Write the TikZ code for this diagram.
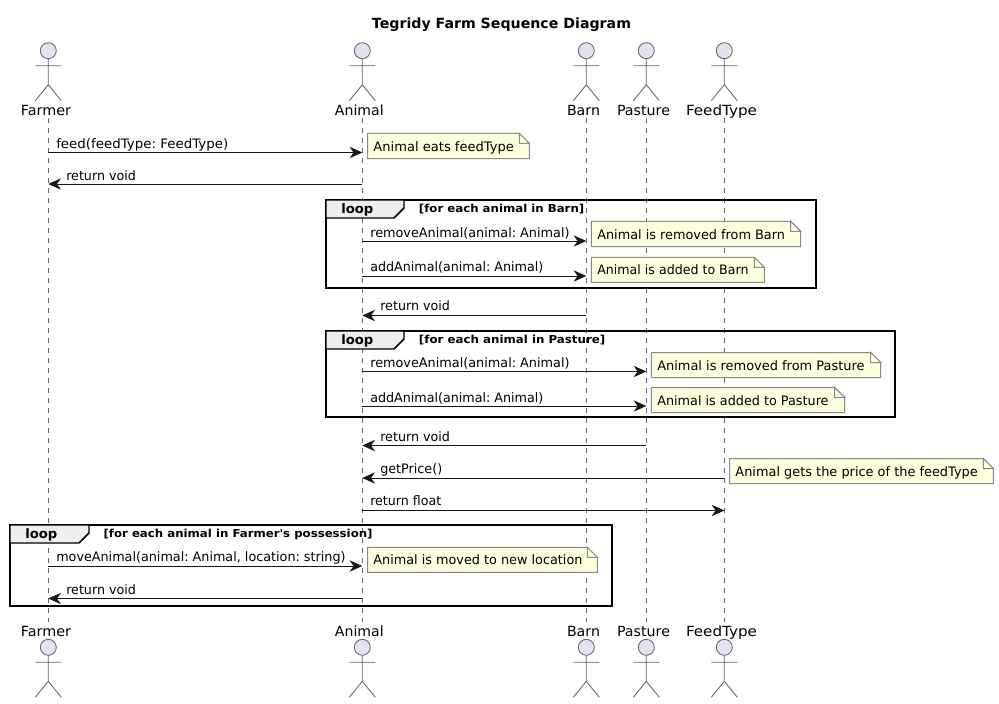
\documentclass[tikz,border=0pt]{standalone}
\usepackage{graphicx}
\usepackage{fontspec}
\setmainfont{DejaVu Sans}[Ligatures=TeXOff]
\usetikzlibrary{arrows.meta,calc}
\definecolor{actorfill}{HTML}{E2E2F0}
\definecolor{actorline}{HTML}{666666}
\definecolor{notefill}{HTML}{FEFFDD}
\definecolor{noteline}{HTML}{8A8A8A}
\definecolor{msgline}{HTML}{181818}
\definecolor{loopfill}{HTML}{EEEEEE}
\newcommand{\fit}[2]{\resizebox{#1\dimexpr 0.75pt\relax}{\height}{#2}}
\tikzset{
  x=0.75pt,y=-0.75pt,
  actorline/.style={draw=actorline,line width=0.65pt},
  lifeline/.style={draw=actorline,line width=0.6pt,dash pattern=on 3.75pt off 3.75pt},
  msg/.style={draw=msgline,line width=0.75pt,-{Stealth[length=9.5pt,width=8.5pt,inset=3pt]}},
  msgtext/.style={font=\fontsize{9.75}{11}\selectfont,anchor=base west,inner sep=0pt,text=black},
  actname/.style={font=\fontsize{10.5}{12}\selectfont,anchor=base,inner sep=0pt,text=black},
  notetext/.style={font=\fontsize{9.75}{11}\selectfont,anchor=base west,inner sep=0pt,text=black},
  framebox/.style={draw=black,line width=1.1pt},
  looptext/.style={font=\fontsize{9.75}{11}\bfseries\selectfont,anchor=base west,inner sep=0pt},
  guardtext/.style={font=\fontsize{8.25}{10}\bfseries\selectfont,anchor=base west,inner sep=0pt},
}
% actor figure: #1 centre x, #2 head centre y
\newcommand{\stick}[2]{%
  \path[actorline,fill=actorfill] (#1,#2) circle[radius=6pt];
  \path[actorline] (#1,#2+8) -- (#1,#2+34) (#1-13,#2+15) -- (#1+13,#2+15)
    (#1-13,#2+50) -- (#1,#2+34) -- (#1+13,#2+50);
}
% note: #1 name, #2 left, #3 top, #4 right, #5 bottom, #6 text width, #7 text
\newcommand{\notebox}[7]{%
  \path[draw=noteline,fill=notefill,line width=0.75pt] (#2,#3) -- (#4-10,#3) -- (#4,#3+10) -- (#4,#5) -- (#2,#5) -- cycle;
  \path[draw=noteline,fill=notefill,line width=0.75pt] (#4-10,#3) -- (#4-10,#3+10) -- (#4,#3+10) -- cycle;
  \node[notetext] (#1) at (#2+5.7,#5-7.5) {\fit{#6}{#7}};
}
% loop frame: #1 name, #2 left, #3 top, #4 right, #5 bottom, #6 tab right, #7 guard x, #8 guard width, #9 guard
\newcommand{\loopframe}[9]{%
  \path[framebox] (#2,#3) rectangle (#4,#5);
  \path[framebox,fill=loopfill] (#2,#3) -- (#6,#3) -- (#6,#3+8) -- (#6-10,#3+18) -- (#2,#3+18) -- cycle;
  \node[looptext] (#1) at (#2+15,#3+13) {\fit{32}{loop}};
  \node[guardtext] (#1g) at (#7,#3+12.5) {\fit{#8}{#9}};
}
\begin{document}
\frenchspacing
\begin{tikzpicture}
\useasboundingbox (0,0) rectangle (999,703);
\fill[white] (0,0) rectangle (999,703);
\coordinate (farmer) at (48.3,0);
\coordinate (animal) at (362.3,0);
\coordinate (barn) at (586.3,0);
\coordinate (pasture) at (646.3,0);
\coordinate (feedtype) at (724.3,0);
% lifelines
\foreach \c in {farmer,animal,barn,pasture,feedtype}{
  \path[lifeline] (\c |- 0,118) -- (\c |- 0,622);
}
\node[font=\fontsize{10.5}{12}\bfseries\selectfont,anchor=base,inner sep=0pt] (title) at (501.5,28) {\fit{259}{Tegridy Farm Sequence Diagram}};
% actors
\foreach \x in {48.3,362.3,586.3,646.3,724.3}{ \stick{\x}{50.7} \stick{\x}{647.3} }
\foreach \x/\n/\w/\nm in {46/Farmer/50/a,359.3/Animal/48.7/b,583.5/Barn/33/c,643.5/Pasture/53/d,721.5/FeedType/71/e}{
  \node[actname] (top\nm) at (\x,115) {\fit{\w}{\n}};
  \node[actname] (bot\nm) at (\x,636) {\fit{\w}{\n}};
}
% frames
\loopframe{l1}{326}{200}{816}{288}{404}{418.7}{165.3}{[for each animal in Barn]}
\loopframe{l2}{326}{331}{895}{417}{404}{418.7}{186.3}{[for each animal in Pasture]}
\loopframe{l3}{10}{525}{612}{606}{89}{103.3}{269}{[for each animal in Farmer's possession]}
% messages
\foreach \n/\y in {m1/152.5,m2/184,m3/241,m4/276,m5/315.5,m6/371.5,m7/406,m8/445.5,m9/478,m10/510.5,m11/566,m12/598.5}{
  \coordinate (\n) at (0,\y);
}
\draw[msg] (farmer |- m1) -- (animal |- m1);
\draw[msg] (animal |- m2) -- (farmer |- m2);
\draw[msg] (animal |- m3) -- (barn |- m3);
\draw[msg] (animal |- m4) -- (barn |- m4);
\draw[msg] (barn |- m5) -- (animal |- m5);
\draw[msg] (animal |- m6) -- (pasture |- m6);
\draw[msg] (animal |- m7) -- (pasture |- m7);
\draw[msg] (pasture |- m8) -- (animal |- m8);
\draw[msg] (feedtype |- m9) -- (animal |- m9);
\draw[msg] (animal |- m10) -- (feedtype |- m10);
\draw[msg] (farmer |- m11) -- (animal |- m11);
\draw[msg] (animal |- m12) -- (farmer |- m12);
\node[msgtext] (t1) at (56,148) {\fit{172}{feed(feedType: FeedType)}};
\node[msgtext] (t2) at (66,180) {\fit{69.7}{return void}};
\node[msgtext] (t3) at (370,237) {\fit{199.3}{removeAnimal(animal: Animal)}};
\node[msgtext] (t4) at (370,271) {\fit{173}{addAnimal(animal: Animal)}};
\node[msgtext] (t5) at (380,310) {\fit{69.7}{return void}};
\node[msgtext] (t6) at (370,367) {\fit{199.3}{removeAnimal(animal: Animal)}};
\node[msgtext] (t7) at (370,402) {\fit{173}{addAnimal(animal: Animal)}};
\node[msgtext] (t8) at (380,441) {\fit{69.7}{return void}};
\node[msgtext] (t9) at (380,473) {\fit{62}{getPrice()}};
\node[msgtext] (t10) at (370,505) {\fit{71}{return float}};
\node[msgtext] (t11) at (56,561) {\fit{289.3}{moveAnimal(animal: Animal, location: string)}};
\node[msgtext] (t12) at (66,594) {\fit{69.7}{return void}};
% notes
\notebox{n1}{367.5}{133.3}{529.3}{158.5}{140.5}{Animal eats feedType}
\notebox{n2}{591.3}{221.3}{800.7}{246.5}{187.7}{Animal is removed from Barn}
\notebox{n3}{591.3}{257.3}{764.3}{282.3}{151.3}{Animal is added to Barn}
\notebox{n4}{651.3}{352.5}{880.7}{377.5}{207.3}{Animal is removed from Pasture}
\notebox{n5}{651.3}{387.5}{844.7}{412.5}{171.3}{Animal is added to Pasture}
\notebox{n6}{729.5}{458.5}{993.3}{483.5}{242.3}{Animal gets the price of the feedType}
\notebox{n7}{367.5}{547.3}{597.3}{572.3}{209}{Animal is moved to new location}
\end{tikzpicture}
\end{document}
